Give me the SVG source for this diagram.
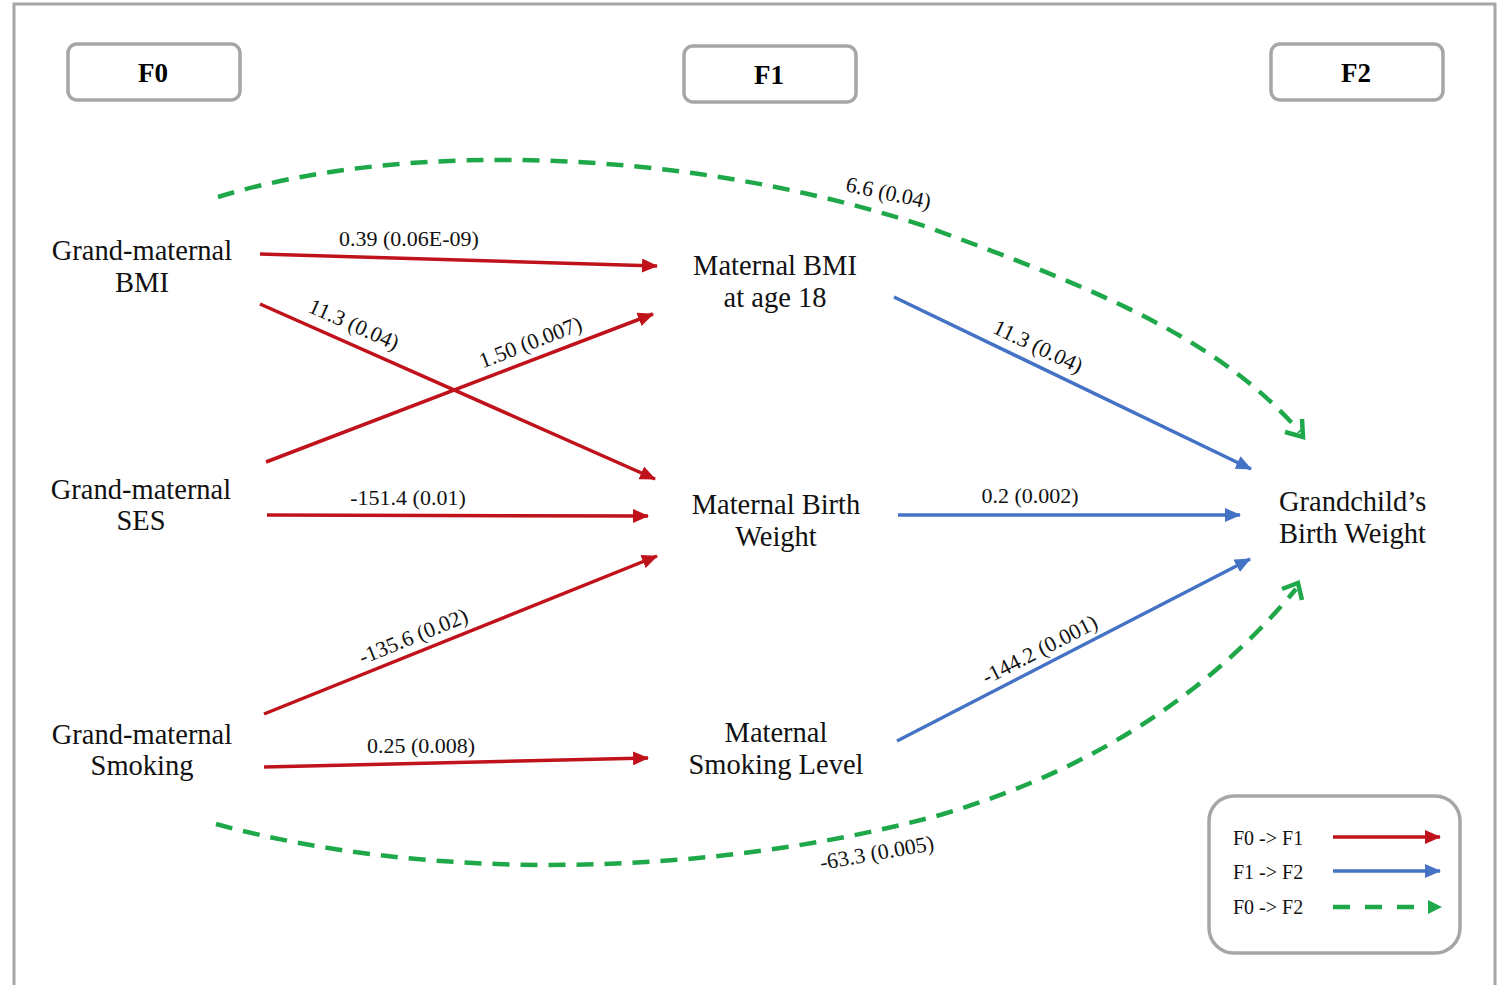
<svg xmlns="http://www.w3.org/2000/svg" width="1498" height="985" viewBox="0 0 1498 985">
  <style>
    .frame { fill: none; stroke: #a6a6a6; stroke-width: 3; }
    .hdr { fill: #fff; stroke: #a6a6a6; stroke-width: 3.5; }
    .hdr-t { font-family: "Liberation Serif", serif; font-weight: bold; font-size: 27px; fill: #000; text-anchor: middle; }
    .node-t { font-family: "Liberation Serif", serif; font-size: 28.5px; fill: #111; text-anchor: middle; }
    .node-l { font-family: "Liberation Serif", serif; font-size: 28.5px; fill: #111; text-anchor: start; }
    .lbl { font-family: "Liberation Serif", serif; font-size: 22px; fill: #111; text-anchor: middle; }
    .leg-t { font-family: "Liberation Serif", serif; font-size: 20px; fill: #111; }
    .red { stroke: #c0121b; stroke-width: 3.5; fill: none; marker-end: url(#ah-red); }
    .blue { stroke: #4472c4; stroke-width: 3.5; fill: none; marker-end: url(#ah-blue); }
    .green { stroke: #1fa84a; stroke-width: 4.5; fill: none; stroke-dasharray: 17 11; }
    .chev { stroke: #1fa84a; stroke-width: 4.5; fill: none; stroke-linejoin: miter; }
  </style>
  <defs>
    <marker id="ah-red" markerUnits="userSpaceOnUse" markerWidth="16" markerHeight="14" viewBox="0 0 16 14" refX="15" refY="7" orient="auto">
      <path d="M0,0 L16,7 L0,14 z" fill="#c0121b"/>
    </marker>
    <marker id="ah-blue" markerUnits="userSpaceOnUse" markerWidth="16" markerHeight="14" viewBox="0 0 16 14" refX="15" refY="7" orient="auto">
      <path d="M0,0 L16,7 L0,14 z" fill="#4472c4"/>
    </marker>
  </defs>

  <rect width="1498" height="985" fill="#fff"/>
  <!-- outer frame -->
  <path class="frame" d="M14,990 L14,4 L1495,4 L1495,990"/>

  <!-- generation headers -->
  <g id="hdr-f0"><rect class="hdr" x="68" y="44" width="172" height="56" rx="9"/><text class="hdr-t" x="153" y="82">F0</text></g>
  <g id="hdr-f1"><rect class="hdr" x="684" y="46" width="172" height="56" rx="9"/><text class="hdr-t" x="769" y="84">F1</text></g>
  <g id="hdr-f2"><rect class="hdr" x="1271" y="44" width="172" height="56" rx="9"/><text class="hdr-t" x="1356" y="82">F2</text></g>

  <!-- connectors -->
  <g id="connectors">
    <!-- F0 -> F1 -->
    <line class="red" x1="260" y1="254" x2="657" y2="266"/>
    <line class="red" x1="260" y1="304" x2="655" y2="479"/>
    <line class="red" x1="266" y1="462" x2="653" y2="314"/>
    <line class="red" x1="267" y1="515" x2="648" y2="516"/>
    <line class="red" x1="264" y1="714" x2="657" y2="556"/>
    <line class="red" x1="264" y1="767" x2="648" y2="758"/>
    <!-- F1 -> F2 -->
    <line class="blue" x1="894" y1="297" x2="1251" y2="469"/>
    <line class="blue" x1="898" y1="515" x2="1240" y2="515"/>
    <line class="blue" x1="897" y1="741" x2="1250" y2="559"/>
    <!-- F0 -> F2 -->
    <path class="green" d="M218,197 C410,138 700,150 930,228 C1100,290 1220,340 1300,432"/>
    <path class="chev" d="M1285,432 L1303,437 L1302,419"/>
    <path class="green" d="M216,824 C420,880 700,880 940,815 C1110,765 1220,680 1296,589"/>
    <path class="chev" d="M1282,589 L1298,583 L1302,600"/>

    <!-- edge labels -->
    <text class="lbl" x="409" y="246">0.39 (0.06E-09)</text>
    <text class="lbl" transform="translate(351,331) rotate(24)">11.3 (0.04)</text>
    <text class="lbl" transform="translate(533,349) rotate(-21)">1.50 (0.007)</text>
    <text class="lbl" x="408" y="505">-151.4 (0.01)</text>
    <text class="lbl" transform="translate(416,643) rotate(-22)">-135.6 (0.02)</text>
    <text class="lbl" x="421" y="753">0.25 (0.008)</text>
    <text class="lbl" transform="translate(1035,353) rotate(25.5)">11.3 (0.04)</text>
    <text class="lbl" x="1030" y="503">0.2 (0.002)</text>
    <text class="lbl" transform="translate(1043,656) rotate(-27)">-144.2 (0.001)</text>
    <text class="lbl" transform="translate(887,200) rotate(12)">6.6 (0.04)</text>
    <text class="lbl" transform="translate(878,860) rotate(-10)">-63.3 (0.005)</text>
  </g>

  <!-- F0 nodes -->
  <g id="gm-bmi"><text class="node-t" x="142" y="260">Grand-maternal</text><text class="node-t" x="142" y="292">BMI</text></g>
  <g id="gm-ses"><text class="node-t" x="141" y="499">Grand-maternal</text><text class="node-t" x="141" y="530">SES</text></g>
  <g id="gm-smoking"><text class="node-t" x="142" y="744">Grand-maternal</text><text class="node-t" x="142" y="775">Smoking</text></g>

  <!-- F1 nodes -->
  <g id="m-bmi"><text class="node-t" x="775" y="275">Maternal BMI</text><text class="node-t" x="775" y="307">at age 18</text></g>
  <g id="m-bw"><text class="node-t" x="776" y="514">Maternal Birth</text><text class="node-t" x="776" y="546">Weight</text></g>
  <g id="m-smoking"><text class="node-t" x="776" y="742">Maternal</text><text class="node-t" x="776" y="774">Smoking Level</text></g>

  <!-- F2 node -->
  <g id="gc-bw"><text class="node-l" x="1279" y="511">Grandchild’s</text><text class="node-l" x="1279" y="543">Birth Weight</text></g>

  <!-- legend -->
  <g id="legend">
    <rect class="hdr" x="1209" y="796" width="251" height="157" rx="25"/>
    <text class="leg-t" x="1233" y="845">F0 -&gt; F1</text>
    <text class="leg-t" x="1233" y="879">F1 -&gt; F2</text>
    <text class="leg-t" x="1233" y="914">F0 -&gt; F2</text>
    <line class="red" x1="1333" y1="837" x2="1440" y2="837"/>
    <line class="blue" x1="1333" y1="871" x2="1440" y2="871"/>
    <line x1="1333" y1="907" x2="1428" y2="907" stroke="#1fa84a" stroke-width="4.5" stroke-dasharray="17 15"/>
    <path d="M1428,900 L1442,907 L1428,914 z" fill="#1fa84a"/>
  </g>
</svg>
